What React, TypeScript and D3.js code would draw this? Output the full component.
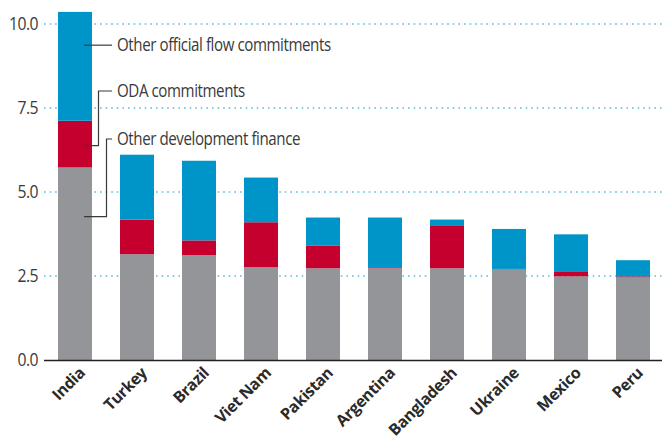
import React from "react";
import * as d3 from "d3";

const countries = ["India", "Turkey", "Brazil", "Viet Nam", "Pakistan", "Argentina", "Bangladesh", "Ukraine", "Mexico", "Peru"];
const otherDevFinance = [5.73, 3.15, 3.12, 2.76, 2.73, 2.73, 2.73, 2.70, 2.49, 2.46];
const odaCommitments = [1.39, 1.03, 0.44, 1.34, 0.68, 0.03, 1.28, 0.01, 0.13, 0.03];
const otherOfficialFlow = [3.24, 1.93, 2.37, 1.33, 0.83, 1.48, 0.17, 1.19, 1.12, 0.48];
const yTicks = [0, 2.5, 5, 7.5, 10];
const seriesKeys = ["dev", "oda", "oof"];
const seriesLabels = ["Other development finance", "ODA commitments", "Other official flow commitments"];
const colors = ["#939598", "#c5002f", "#0095c8"];

const W = 662;
const H = 439;

export default function App() {
  const rows = countries.map((c, i) => ({
    country: c,
    dev: otherDevFinance[i],
    oda: odaCommitments[i],
    oof: otherOfficialFlow[i],
  }));
  const stack = d3.stack<any>().keys(seriesKeys)(rows);
  const x = d3.scaleBand<string>().domain(countries).range([44, 664]).paddingInner(28 / 62).paddingOuter(14 / 62);
  const y = d3.scaleLinear().domain([0, 10]).range([360, 24]);
  const font = "'Open Sans', sans-serif";
  const textColor = "#3a3a3a";
  const lineColor = "#3a3a3a";

  const india = x("India")! + x.bandwidth();
  const labelX = 117;
  const ann = [
    { label: seriesLabels[2], anchorV: 9.37, textY: 45 },
    { label: seriesLabels[1], anchorV: 6.38, textY: 91 },
    { label: seriesLabels[0], anchorV: 4.27, textY: 139 },
  ];
  const elbowX = [null, 98.5, 106.5];

  return (
    <svg width={W} height={H} style={{ position: "absolute", left: 0, top: 0, background: "#fff" }}>
      {yTicks.filter((t) => t > 0).map((t) => (
        <line key={t} x1={44} x2={662} y1={y(t)} y2={y(t)} stroke="#5bbfe0" strokeWidth={1.6} strokeDasharray="1.6 4" />
      ))}
      {stack.map((s, si) => (
        <g key={s.key} fill={colors[si]}>
          {s.map((d, i) => (
            <rect key={i} x={x(countries[i])} width={x.bandwidth()} y={y(d[1])} height={Math.max(0, y(d[0]) - y(d[1]))} />
          ))}
        </g>
      ))}
      <line x1={44} x2={662} y1={360.5} y2={360.5} stroke="#222" strokeWidth={1.5} />
      {yTicks.map((t) => (
        <text key={t} transform={`translate(38,${y(t)}) scale(0.9,1)`} dy="0.36em" textAnchor="end" fontFamily={font} fontSize={17.5} fill={textColor} letterSpacing={-0.6}>
          {t.toFixed(1)}
        </text>
      ))}
      {countries.map((c) => (
        <text
          key={c}
          transform={`translate(${x(c)! + x.bandwidth() / 2 + 11},374) rotate(-45)`}
          textAnchor="end"
          fontFamily={font}
          fontWeight={700}
          fontSize={16}
          fill="#2a2a2a"
          letterSpacing={-0.4}
        >
          {c}
        </text>
      ))}
      {ann.map((a, i) => {
        const ay = y(a.anchorV);
        const ex = elbowX[i];
        const path = ex == null
          ? `M${india - 8},${ay}H${labelX - 5}`
          : `M${india - 8},${ay}H${ex}V${a.textY}H${labelX - 5}`;
        return (
          <g key={a.label}>
            <path d={path} fill="none" stroke={lineColor} strokeWidth={1.2} />
            <text transform={`translate(${labelX},${a.textY}) scale(0.865,1)`} dy="0.35em" fontFamily={font} fontSize={17.5} fill={textColor} letterSpacing={-0.5}>
              {a.label}
            </text>
          </g>
        );
      })}
    </svg>
  );
}
